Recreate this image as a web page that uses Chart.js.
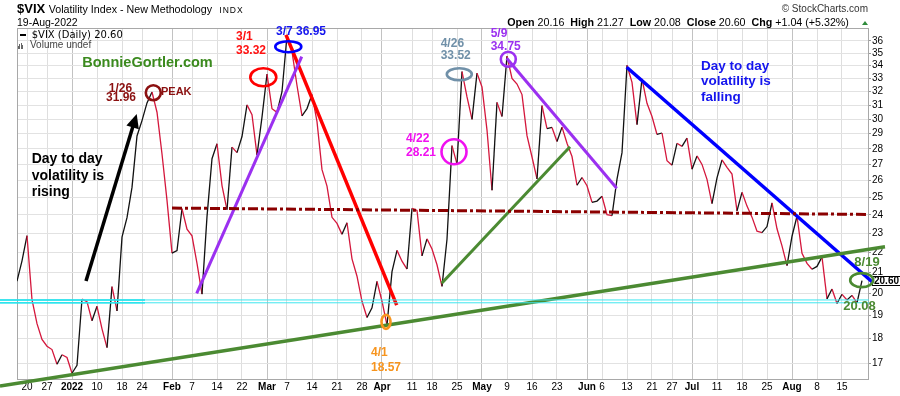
<!DOCTYPE html>
<html>
<head>
<meta charset="utf-8">
<title>$VIX Volatility Index</title>
<script src="https://cdn.jsdelivr.net/npm/chart.js@4.4.1/dist/chart.umd.min.js"></script>
<style>
  body { margin: 0; background: #fff; }
  #wrap { position: relative; width: 900px; height: 396px; overflow: hidden; font-family: 'Liberation Sans', Arial, sans-serif; color: #000; }
  #wrap canvas { position: absolute; left: 0; top: 0; }
  .t { position: absolute; white-space: pre; line-height: 1; }
  .bar { position: absolute; width: 1px; background: #666; }
</style>
</head>
<body>
<div id="wrap">
  <canvas id="vixChart" width="900" height="396"></canvas>

  <div class="t" style="left:17px;top:2px;font-size:13px;font-weight:bold">$VIX</div>
  <div class="t" style="left:48.7px;top:3.5px;font-size:10.7px">Volatility Index - New Methodology</div>
  <div class="t" style="left:219.3px;top:5.6px;font-size:8.5px;letter-spacing:1px">INDX</div>
  <div class="t" style="left:17px;top:17.4px;font-size:10.5px">19-Aug-2022</div>
  <div class="t" style="right:32px;top:4.2px;font-size:10px;color:#333">© StockCharts.com</div>
  <div class="t" style="left:507.3px;top:16.9px;font-size:10.7px"><b>Open</b> 20.16  <b>High</b> 21.27  <b>Low</b> 20.08  <b>Close</b> 20.60  <b>Chg</b> +1.04 (+5.32%)</div>
  <div style="position:absolute;left:861.7px;top:20.7px;width:0;height:0;border-left:3.3px solid transparent;border-right:3.3px solid transparent;border-bottom:4.3px solid #2e8b3a"></div>

  <div style="position:absolute;left:20px;top:33.5px;width:6px;height:2.5px;background:#000"></div>
  <div class="t" style="left:31.7px;top:30.2px;font-size:10px;font-family:'DejaVu Sans',sans-serif">$VIX (Daily) 20.60</div>
  <div class="bar" style="left:17.5px;top:45.7px;height:3px"></div>
  <div class="bar" style="left:19px;top:43.7px;height:5px"></div>
  <div class="bar" style="left:20.5px;top:42.7px;height:6px"></div>
  <div class="bar" style="left:22px;top:44.7px;height:4px"></div>
  <div class="t" style="left:30px;top:40.4px;font-size:10px;color:#444">Volume undef</div>
</div>

<script>
// $VIX daily closes, 16-Dec-2021 .. 19-Aug-2022 (one value per trading day)
const days = [
  'Dec 16','Dec 17','Dec 20','Dec 21','Dec 22','Dec 23','Dec 27','Dec 28','Dec 29','Dec 30','Dec 31',
  'Jan 3','Jan 4','Jan 5','Jan 6','Jan 7','Jan 10','Jan 11','Jan 12','Jan 13','Jan 14','Jan 18','Jan 19','Jan 20','Jan 21','Jan 24','Jan 25','Jan 26','Jan 27','Jan 28','Jan 31',
  'Feb 1','Feb 2','Feb 3','Feb 4','Feb 7','Feb 8','Feb 9','Feb 10','Feb 11','Feb 14','Feb 15','Feb 16','Feb 17','Feb 18','Feb 22','Feb 23','Feb 24','Feb 25','Feb 28',
  'Mar 1','Mar 2','Mar 3','Mar 4','Mar 7','Mar 8','Mar 9','Mar 10','Mar 11','Mar 14','Mar 15','Mar 16','Mar 17','Mar 18','Mar 21','Mar 22','Mar 23','Mar 24','Mar 25','Mar 28','Mar 29','Mar 30','Mar 31',
  'Apr 1','Apr 4','Apr 5','Apr 6','Apr 7','Apr 8','Apr 11','Apr 12','Apr 13','Apr 14','Apr 18','Apr 19','Apr 20','Apr 21','Apr 22','Apr 25','Apr 26','Apr 27','Apr 28','Apr 29',
  'May 2','May 3','May 4','May 5','May 6','May 9','May 10','May 11','May 12','May 13','May 16','May 17','May 18','May 19','May 20','May 23','May 24','May 25','May 26','May 27','May 31',
  'Jun 1','Jun 2','Jun 3','Jun 6','Jun 7','Jun 8','Jun 9','Jun 10','Jun 13','Jun 14','Jun 15','Jun 16','Jun 17','Jun 21','Jun 22','Jun 23','Jun 24','Jun 27','Jun 28','Jun 29','Jun 30',
  'Jul 1','Jul 5','Jul 6','Jul 7','Jul 8','Jul 11','Jul 12','Jul 13','Jul 14','Jul 15','Jul 18','Jul 19','Jul 20','Jul 21','Jul 22','Jul 25','Jul 26','Jul 27','Jul 28','Jul 29',
  'Aug 1','Aug 2','Aug 3','Aug 4','Aug 5','Aug 8','Aug 9','Aug 10','Aug 11','Aug 12','Aug 15','Aug 16','Aug 17','Aug 18','Aug 19'
];

const closes = [
  20.57, 21.57, 22.87, 19.70, 18.63, 17.96, 17.68, 17.54, 16.95, 17.33, 17.22,
  16.60, 16.91, 19.73, 19.61, 18.76, 19.40, 18.41, 17.62, 20.31, 19.19, 22.79, 23.85, 25.59, 28.85, 29.90, 31.16, 31.96, 30.49, 27.66, 24.83,
  21.96, 22.09, 24.35, 23.22, 22.86, 21.44, 19.96, 23.91, 27.36, 28.33, 25.70, 24.29, 28.11, 27.75, 28.81, 31.02, 30.32, 27.59, 30.15,
  33.32, 30.74, 30.48, 31.98, 36.45, 35.13, 32.45, 30.23, 30.75, 31.77, 29.83, 26.67, 25.67, 23.87, 23.53, 22.94, 23.57, 21.67, 20.81, 19.63, 18.90, 19.33, 20.56,
  19.63, 18.57, 21.03, 22.10, 21.55, 21.16, 24.37, 24.26, 21.82, 22.70, 22.17, 21.37, 20.32, 22.68, 28.21, 27.02, 33.52, 31.60, 29.99, 33.40,
  32.34, 29.25, 25.42, 31.20, 30.19, 34.75, 32.99, 32.56, 31.77, 28.87, 27.47, 26.10, 30.96, 29.35, 29.43, 28.48, 29.45, 28.37, 27.50, 25.72, 26.19,
  25.69, 24.72, 24.79, 25.07, 24.02, 23.96, 26.09, 27.75, 34.02, 32.69, 29.62, 32.95, 31.13, 30.19, 28.95, 29.05, 27.23, 26.95, 28.36, 28.16, 28.71,
  26.70, 27.54, 27.00, 26.08, 24.64, 26.17, 27.29, 26.82, 26.40, 24.23, 25.30, 24.50, 23.88, 23.11, 23.03, 23.36, 24.69, 23.24, 22.33, 21.33,
  22.84, 23.93, 21.95, 21.44, 21.15, 21.29, 21.77, 19.74, 20.20, 19.53, 19.95, 19.69, 19.90, 19.56, 20.60
];

const tickDays = ['Dec 20','Dec 27','Jan 3','Jan 10','Jan 18','Jan 24','Feb 1','Feb 7','Feb 14','Feb 22','Mar 1','Mar 7','Mar 14','Mar 21','Mar 28',
  'Apr 1','Apr 11','Apr 18','Apr 25','May 2','May 9','May 16','May 23','Jun 1','Jun 6','Jun 13','Jun 21','Jun 27','Jul 1','Jul 11','Jul 18','Jul 25','Aug 1','Aug 8','Aug 15'];
const tickText = ['20','27','2022','10','18','24','Feb','7','14','22','Mar','7','14','21','28',
  'Apr','11','18','25','May','9','16','23','Jun','6','13','21','27','Jul','11','18','25','Aug','8','15'];
const boldTicks = ['2022','Feb','Mar','Apr','May','Jun','Jul','Aug'];
const yTicks = [17, 18, 19, 20, 21, 22, 23, 24, 25, 26, 27, 28, 29, 30, 31, 32, 33, 34, 35, 36];

// hand drawn trend lines, [day index, VIX value] pairs
const arrowFrom = [13.8, 20.58];
const arrowShaftEnd = [23.59, 29.96];
const arrowTip = [23.94, 30.37];
const trendLines = [
  { from: [-3.4, 19.69], to: [170.4, 19.69], color: '#3fe6ef', width: 1 },
  { from: [-3.4, 19.56], to: [170.4, 19.56], color: '#3fe6ef', width: 1 },
  { from: [-3.4, 19.69], to: [25.6, 19.69], color: '#00dde8', width: 1.4 },
  { from: [-3.4, 19.56], to: [25.6, 19.56], color: '#00dde8', width: 1.4 },
  { from: [31, 24.39], to: [170.4, 24.03], color: '#8b0000', width: 3, dash: [10, 3, 3, 3] },
  { from: [-3.4, 16.11], to: [173.6, 22.29], color: '#4b8a32', width: 3.5 },
  { from: [84.94, 20.47], to: [110.6, 28.14], color: '#4b8a32', width: 3 },
  { from: [35.94, 19.99], to: [56.94, 34.71], color: '#9b30f0', width: 3 },
  { from: [53.8, 36.51], to: [75.94, 19.45], color: '#ff0000', width: 3.5 },
  { from: [97.94, 34.58], to: [119.94, 25.54], color: '#9b30f0', width: 3 },
  { from: [121.94, 33.86], to: [171, 20.54], color: '#0000ff', width: 3.5 },
  { from: arrowFrom, to: arrowShaftEnd, color: '#000', width: 3.5 }
];

const rings = [
  { x: 27.26, y: 31.91, rx: 7.5, ry: 7.5, color: '#8b1010' },
  { x: 49.26, y: 33.08, rx: 13, ry: 9, color: '#ff0000' },
  { x: 54.26, y: 35.52, rx: 13, ry: 5.5, color: '#0000ff' },
  { x: 73.8, y: 18.71, rx: 4.5, ry: 7, color: '#f7941d' },
  { x: 87.4, y: 27.81, rx: 12.5, ry: 12.5, color: '#f010f0' },
  { x: 88.46, y: 33.31, rx: 12.5, ry: 6, color: '#7090a8' },
  { x: 98.26, y: 34.5, rx: 7.5, ry: 7.5, color: '#9b30f0' },
  { x: 168.94, y: 20.62, rx: 11.5, ry: 7, color: '#4b8a32' }
];

const notes = [
  { text: 'BonnieGortler.com', x: 26.1, y: 34.18, color: '#3b8a1e', size: 14.5, align: 'center' },
  { text: '1/26', x: 20.7, y: 32.24, color: '#8b1010', size: 12, align: 'center' },
  { text: '31.96', x: 20.8, y: 31.57, color: '#8b1010', size: 12, align: 'center' },
  { text: 'PEAK', x: 28.8, y: 31.99, color: '#8b1010', size: 11, align: 'left' },
  { text: '3/1', x: 43.8, y: 36.36, color: '#ff1010', size: 12, align: 'left' },
  { text: '33.32', x: 43.8, y: 35.15, color: '#ff1010', size: 12, align: 'left' },
  { text: '3/7 36.95', x: 51.8, y: 36.82, color: '#1515ee', size: 12, align: 'left' },
  { text: '4/1', x: 70.8, y: 17.42, color: '#f7941d', size: 12, align: 'left' },
  { text: '18.57', x: 70.8, y: 16.80, color: '#f7941d', size: 12, align: 'left' },
  { text: '4/22', x: 77.8, y: 28.67, color: '#f010f0', size: 12, align: 'left' },
  { text: '28.21', x: 77.8, y: 27.74, color: '#f010f0', size: 12, align: 'left' },
  { text: '4/26', x: 84.74, y: 35.81, color: '#7090a8', size: 12, align: 'left' },
  { text: '33.52', x: 84.74, y: 34.78, color: '#7090a8', size: 12, align: 'left' },
  { text: '5/9', x: 94.74, y: 36.63, color: '#9b30f0', size: 12, align: 'left' },
  { text: '34.75', x: 94.74, y: 35.52, color: '#9b30f0', size: 12, align: 'left' },
  { text: 'Day to day', x: 2.94, y: 27.34, color: '#000', size: 14, align: 'left' },
  { text: 'volatility is', x: 2.94, y: 26.29, color: '#000', size: 14, align: 'left' },
  { text: 'rising', x: 2.94, y: 25.29, color: '#000', size: 14, align: 'left' },
  { text: 'Day to day', x: 136.8, y: 33.92, color: '#1515ee', size: 13.5, align: 'left' },
  { text: 'volatility is', x: 136.8, y: 32.76, color: '#1515ee', size: 13.5, align: 'left' },
  { text: 'falling', x: 136.8, y: 31.59, color: '#1515ee', size: 13.5, align: 'left' },
  { text: '8/19', x: 170, y: 21.51, color: '#4b8a32', size: 13, align: 'center' },
  { text: '20.08', x: 168.5, y: 19.38, color: '#4b8a32', size: 13, align: 'center' }
];

const FONT = "'Liberation Sans', Arial, sans-serif";

const notesPlugin = {
  id: 'notes',
  beforeDatasetsDraw(chart) {
    const { ctx, chartArea: a, scales: { y } } = chart;
    ctx.save();
    ctx.strokeStyle = '#a8a8a8';
    ctx.lineWidth = 1;
    ctx.strokeRect(a.left + 0.5, a.top + 0.5, a.width - 1, a.height - 1);

    // last close tag on the price axis
    const last = closes[closes.length - 1];
    const py = Math.round(y.getPixelForValue(last));
    ctx.fillStyle = '#fff';
    ctx.fillRect(a.right + 3, py - 5, 30, 10);
    ctx.strokeStyle = '#000';
    ctx.strokeRect(a.right + 3.5, py - 4.5, 30, 9);
    ctx.fillStyle = '#000';
    ctx.font = 'bold 10px ' + FONT;
    ctx.textBaseline = 'middle';
    ctx.textAlign = 'left';
    ctx.fillText(last.toFixed(2), a.right + 5, py + 0.5);
    ctx.restore();
  },
  afterDatasetsDraw(chart) {
    const { ctx, scales: { x, y } } = chart;
    ctx.save();

    rings.forEach(r => {
      ctx.beginPath();
      ctx.ellipse(x.getPixelForValue(r.x), y.getPixelForValue(r.y), r.rx, r.ry, 0, 0, Math.PI * 2);
      ctx.strokeStyle = r.color;
      ctx.lineWidth = 2.6;
      ctx.stroke();
    });

    // arrow head
    const x0 = x.getPixelForValue(arrowFrom[0]), y0 = y.getPixelForValue(arrowFrom[1]);
    const tx = x.getPixelForValue(arrowTip[0]), ty = y.getPixelForValue(arrowTip[1]);
    const ang = Math.atan2(ty - y0, tx - x0);
    const len = 14, half = 6.5;
    const bx = tx - len * Math.cos(ang), by = ty - len * Math.sin(ang);
    ctx.beginPath();
    ctx.moveTo(tx, ty);
    ctx.lineTo(bx + half * Math.sin(ang), by - half * Math.cos(ang));
    ctx.lineTo(bx - half * Math.sin(ang), by + half * Math.cos(ang));
    ctx.closePath();
    ctx.fillStyle = '#000';
    ctx.fill();

    ctx.textBaseline = 'middle';
    notes.forEach(n => {
      ctx.font = 'bold ' + n.size + 'px ' + FONT;
      ctx.fillStyle = n.color;
      ctx.textAlign = n.align;
      ctx.fillText(n.text, x.getPixelForValue(n.x), y.getPixelForValue(n.y));
    });
    ctx.restore();
  }
};

const datasets = trendLines.map(t => ({
  data: [{ x: t.from[0], y: t.from[1] }, { x: t.to[0], y: t.to[1] }],
  borderColor: t.color,
  borderWidth: t.width,
  borderDash: t.dash || [],
  pointRadius: 0,
  clip: false,
  order: 0
}));

datasets.push({
  label: '$VIX (Daily)',
  data: closes.map((v, i) => ({ x: i, y: v })),
  borderWidth: 1.3,
  pointRadius: 0,
  tension: 0,
  order: 1,
  segment: {
    borderColor: c => c.p1.parsed.y >= c.p0.parsed.y ? '#111' : '#d4173c'
  }
});

new Chart(document.getElementById('vixChart'), {
  type: 'line',
  data: { datasets },
  options: {
    responsive: false,
    devicePixelRatio: 1,
    animation: false,
    layout: { padding: { left: 17, top: 28, right: 0, bottom: 0 } },
    plugins: { legend: { display: false }, tooltip: { enabled: false } },
    scales: {
      x: {
        type: 'linear',
        min: 0,
        max: 170.4,
        afterBuildTicks: s => { s.ticks = tickDays.map(d => ({ value: days.indexOf(d) })); },
        afterFit: s => { s.height = 16; },
        border: { display: false },
        grid: {
          drawTicks: false,
          color: c => boldTicks.includes(tickText[c.index]) ? '#c2c2c2' : '#dedede'
        },
        ticks: {
          autoSkip: false,
          maxRotation: 0,
          minRotation: 0,
          padding: 1,
          color: '#000',
          font: c => ({ family: FONT, size: 10, weight: boldTicks.includes(tickText[c.index]) ? 'bold' : 'normal' }),
          callback: (v, i) => tickText[i]
        }
      },
      y: {
        type: 'logarithmic',
        position: 'right',
        min: 16.34,
        max: 37.1,
        afterBuildTicks: s => { s.ticks = yTicks.map(v => ({ value: v })); },
        afterFit: s => { s.width = 31; },
        border: { display: false },
        grid: { color: '#e2e2e2', tickLength: 2, tickColor: '#999' },
        ticks: {
          autoSkip: false,
          padding: 1,
          color: '#000',
          font: { family: FONT, size: 10 },
          callback: v => String(v)
        }
      }
    }
  },
  plugins: [notesPlugin]
});
</script>
</body>
</html>
